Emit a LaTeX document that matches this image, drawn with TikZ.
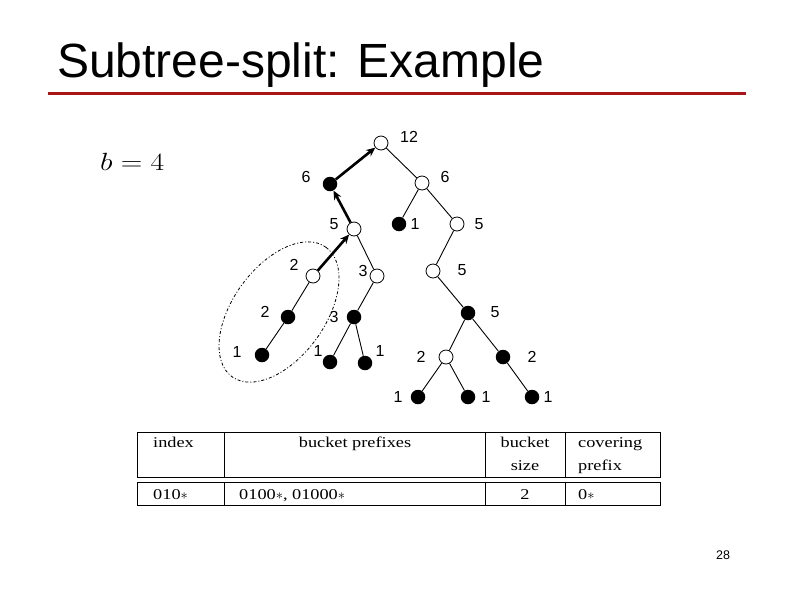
\documentclass[tikz,border=0pt]{standalone}
\usepackage{fontspec}
\usetikzlibrary{arrows.meta}
\setmainfont{Liberation Sans}
\newfontfamily\tabfont{Liberation Serif}[FakeStretch=1.22]
\definecolor{titlered}{RGB}{170,22,24}
\begin{document}
\begin{tikzpicture}[x=1pt,y=-1pt,
  opennode/.style={circle,draw,fill=white,line width=0.8pt,minimum size=14pt,inner sep=0pt},
  fullnode/.style={circle,fill=black,minimum size=14.5pt,inner sep=0pt},
  lab/.style={font=\fontsize{16}{18}\selectfont,inner sep=0pt},
  thin edge/.style={line width=0.9pt},
  heavy/.style={line width=2.6pt,-{Stealth[length=9pt,width=8pt]}},
  tabtext/.style={font=\tabfont\fontsize{15}{17}\selectfont,inner sep=0pt,anchor=base west},
  tabline/.style={line width=0.9pt}]
\useasboundingbox (0,0) rectangle (794,595);
% title
\node[anchor=base west,inner sep=0pt,font=\fontsize{48}{52}\selectfont] (title) at (57,77) {Subtree-split: Example};
\draw[titlered,line width=3pt] (48,93) -- (746,93);
% b = 4
\node[anchor=base west,inner sep=0pt,font=\fontsize{23}{27}\selectfont] (bval) at (100,170) {\scalebox{1.2}[1]{$b=4$}};
% tree nodes
\node[opennode] (root) at (381,143) {};
\node[fullnode] (A) at (330,184) {};
\node[opennode] (B) at (422,183) {};
\node[opennode] (C) at (354,229) {};
\node[fullnode] (D) at (399,224) {};
\node[opennode] (E) at (457,224) {};
\node[opennode] (F) at (313,276) {};
\node[opennode] (G) at (377,276) {};
\node[opennode] (H) at (433,271) {};
\node[fullnode] (M) at (288,317) {};
\node[fullnode] (N) at (354,317) {};
\node[fullnode] (I) at (468,313) {};
\node[opennode] (J) at (446,357) {};
\node[fullnode] (K) at (503,357) {};
\node[fullnode] (P) at (262,355) {};
\node[fullnode] (Q) at (330,362) {};
\node[fullnode] (R) at (365,363) {};
\node[fullnode] (L1) at (418,397) {};
\node[fullnode] (L2) at (468,397) {};
\node[fullnode] (L3) at (532,397) {};
% labels
\node[lab] (lroot) at (409,137) {12};
\node[lab] (lA) at (306,177) {6};
\node[lab] (lB) at (445,177) {6};
\node[lab] (lC) at (334,224) {5};
\node[lab] (lD) at (415,224) {1};
\node[lab] (lE) at (479,224) {5};
\node[lab] (lF) at (294,265) {2};
\node[lab] (lG) at (363,271) {3};
\node[lab] (lH) at (462,270) {5};
\node[lab] (lM) at (265,312) {2};
\node[lab] (lN) at (334,317) {3};
\node[lab] (lI) at (495,312) {5};
\node[lab] (lJ) at (421,357) {2};
\node[lab] (lK) at (532,357) {2};
\node[lab] (lP) at (237,352) {1};
\node[lab] (lQ) at (318,351) {1};
\node[lab] (lR) at (380,351) {1};
\node[lab] (lL1) at (398,397) {1};
\node[lab] (lL2) at (486,397) {1};
\node[lab] (lL3) at (548,397) {1};
% thin edges
\foreach \u/\v in {root/B,B/D,B/E,E/H,H/I,I/J,I/K,J/L1,J/L2,K/L3,C/G,G/N,N/Q,N/R,F/M,M/P}
  \draw[thin edge] (\u) -- (\v);
% heavy path
\draw[heavy] (F) -- (C);
\draw[heavy] (C) -- (A);
\draw[heavy] (A) -- (root);
% subtree outline
\draw[line width=0.8pt,dash pattern=on 3pt off 2pt on 1pt off 2pt,rotate around={54:(279,312)}]
  (279,312) ellipse [x radius=80pt, y radius=46pt];
% table
\coordinate (t1) at (137,432);
\coordinate (t2) at (660,477);
\coordinate (t3) at (137,482);
\coordinate (t4) at (660,505);
\draw[tabline] (t1) rectangle (t2);
\draw[tabline] (t3) rectangle (t4);
\foreach \x in {224,485,565} {
  \draw[tabline] (\x,432) -- (\x,477);
  \draw[tabline] (\x,482) -- (\x,505);
}
\node[tabtext] (h1) at (153,447) {index};
\node[tabtext,anchor=base] (h2) at (355,447) {bucket prefixes};
\node[tabtext,anchor=base] (h3) at (525,447) {bucket};
\node[tabtext,anchor=base] (h3b) at (525,470) {size};
\node[tabtext] (h4) at (578,447) {covering};
\node[tabtext] (h4b) at (578,470) {prefix};
\node[tabtext] (d1) at (153,499) {010$*$};
\node[tabtext] (d2) at (239,499) {0100$*$, 01000$*$};
\node[tabtext,anchor=base] (d3) at (525,499) {2};
\node[tabtext] (d4) at (578,499) {0$*$};
% page number
\node[inner sep=0pt,font=\fontsize{12.5}{14}\selectfont] (pnum) at (723,555) {28};
\end{tikzpicture}
\end{document}
